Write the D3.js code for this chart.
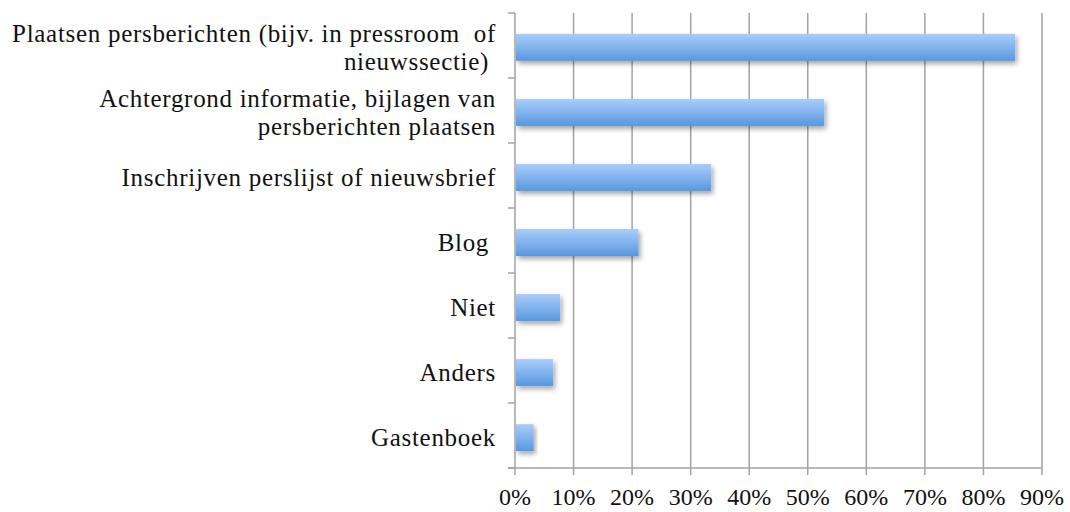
<!DOCTYPE html>
<html>
<head>
<meta charset="utf-8">
<script src="https://cdn.jsdelivr.net/npm/d3@7"></script>
<style>
  body { margin: 0; background: #fff; }
</style>
</head>
<body>
<div id="chart"></div>
<script>
// categories (top to bottom), each as label lines
const categories = [
    ["Plaatsen persberichten (bijv. in pressroom  of", "nieuwssectie) "],
    ["Achtergrond informatie, bijlagen van", "persberichten plaatsen"],
    ["Inschrijven perslijst of nieuwsbrief"],
    ["Blog "],
    ["Niet"],
    ["Anders"],
    ["Gastenboek"]
];
const values = [85.4, 52.8, 33.5, 21.1, 7.7, 6.5, 3.2];
const xTicks = [0, 10, 20, 30, 40, 50, 60, 70, 80, 90];

const width = 1070;
const height = 512;
const plotLeft = 515, plotRight = 1042, plotTop = 13, plotBottom = 468;
const font = "'Liberation Serif', 'Times New Roman', serif";

let svg = d3.select("#chart")
    .append("svg")
    .attr("width", width)
    .attr("height", height);

const defs = svg.append("defs");
const grad = defs.append("linearGradient")
    .attr("id", "barGrad")
    .attr("x1", 0).attr("y1", 0).attr("x2", 0).attr("y2", 1);
grad.append("stop").attr("offset", "0%").attr("stop-color", "#a9cdfb");
grad.append("stop").attr("offset", "100%").attr("stop-color", "#5898df");

const shadow = defs.append("filter")
    .attr("id", "shadow")
    .attr("x", "-10%").attr("y", "-30%")
    .attr("width", "130%").attr("height", "180%");
shadow.append("feDropShadow")
    .attr("dx", 2).attr("dy", 3)
    .attr("stdDeviation", 2.5)
    .attr("flood-color", "#000")
    .attr("flood-opacity", 0.35);

let x = d3.scaleLinear().domain([0, 90]).range([plotLeft, plotRight]);
let y = d3.scaleBand()
    .domain(d3.range(categories.length))
    .range([plotTop, plotBottom])
    .paddingInner(0.585)
    .paddingOuter(0.29);

// gridlines
svg.selectAll("line.grid")
    .data(xTicks.slice(1))
    .enter()
    .append("line")
    .attr("class", "grid")
    .attr("x1", function(d) {return x(d);})
    .attr("x2", function(d) {return x(d);})
    .attr("y1", plotTop)
    .attr("y2", plotBottom)
    .attr("stroke", "#a3a3a3")
    .attr("stroke-width", 1.5);

// bars
svg.selectAll("rect.bar")
    .data(values)
    .enter()
    .append("rect")
    .attr("class", "bar")
    .attr("x", x(0) + 1)
    .attr("y", function(d, i) {return y(i) + 2;})
    .attr("width", function(d) {return x(d) - x(0) - 1;})
    .attr("height", y.bandwidth())
    .attr("fill", "url(#barGrad)")
    .attr("filter", "url(#shadow)");

// y axis
svg.append("line")
    .attr("x1", plotLeft).attr("x2", plotLeft)
    .attr("y1", plotTop).attr("y2", plotBottom)
    .attr("stroke", "#a3a3a3")
    .attr("stroke-width", 1.5);

const step = (plotBottom - plotTop) / categories.length;
svg.selectAll("line.ytick")
    .data(d3.range(categories.length + 1))
    .enter()
    .append("line")
    .attr("class", "ytick")
    .attr("x1", plotLeft - 7).attr("x2", plotLeft)
    .attr("y1", function(d) {return plotTop + d*step;})
    .attr("y2", function(d) {return plotTop + d*step;})
    .attr("stroke", "#a3a3a3")
    .attr("stroke-width", 1.5);

// x axis
svg.append("line")
    .attr("x1", plotLeft - 7).attr("x2", plotRight)
    .attr("y1", plotBottom).attr("y2", plotBottom)
    .attr("stroke", "#a3a3a3")
    .attr("stroke-width", 1.5);

svg.selectAll("line.xtick")
    .data(xTicks)
    .enter()
    .append("line")
    .attr("class", "xtick")
    .attr("x1", function(d) {return x(d);})
    .attr("x2", function(d) {return x(d);})
    .attr("y1", plotBottom).attr("y2", plotBottom + 7)
    .attr("stroke", "#a3a3a3")
    .attr("stroke-width", 1.5);

svg.selectAll("text.xlabel")
    .data(xTicks)
    .enter()
    .append("text")
    .attr("class", "xlabel")
    .attr("x", function(d) {return x(d);})
    .attr("y", 505)
    .attr("text-anchor", "middle")
    .attr("font-family", font)
    .attr("font-size", 24)
    .attr("fill", "#111")
    .text(function(d) {return d + "%";});

// category labels
const lineH = 28;
categories.forEach(function(lines, i) {
    const cy = plotTop + (i + 0.5)*step + 3;
    const y0 = cy - (lines.length - 1)*lineH/2 + 7;
    const t = svg.append("text")
        .attr("text-anchor", "end")
        .attr("font-family", font)
        .attr("font-size", 25)
        .attr("letter-spacing", 0.7)
        .attr("fill", "#111")
        .style("white-space", "pre");
    lines.forEach(function(s, j) {
        t.append("tspan")
            .attr("x", 496)
            .attr("y", y0 + j*lineH)
            .text(s);
    });
});
</script>
</body>
</html>
